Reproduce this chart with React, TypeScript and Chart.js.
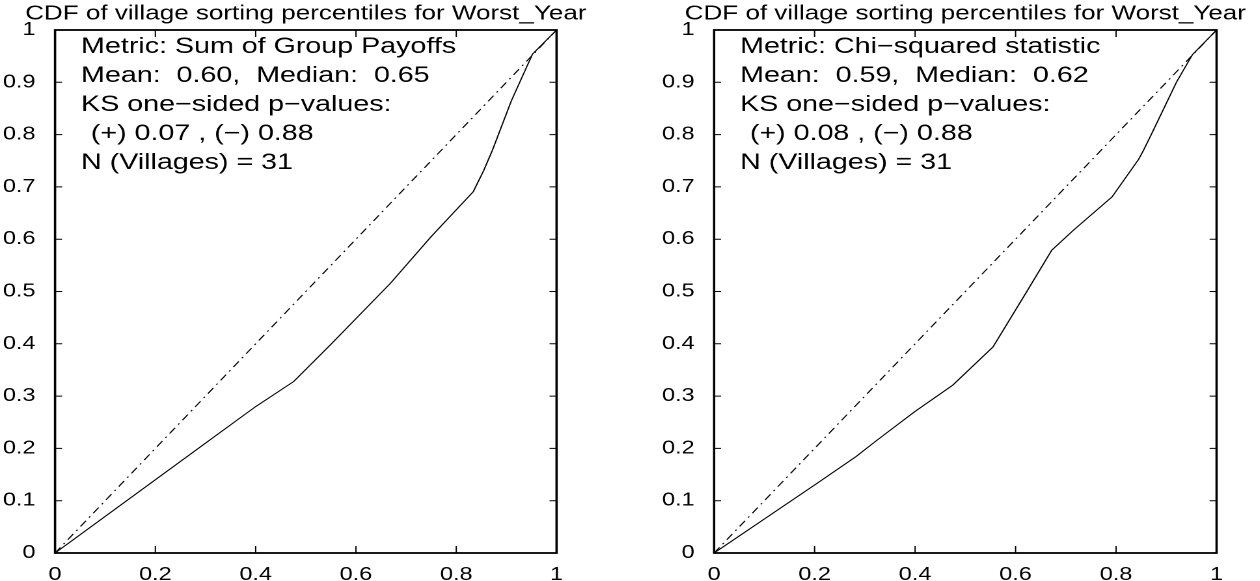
import React, { useEffect, useRef } from 'react';
import Chart from 'chart.js/auto';

// horizontal stretch of the original figure
const S = 1.3;
const PANEL_W = 630;
const H = 581;
const FONT = '"Liberation Sans", Arial, Helvetica, sans-serif';

const xTicks = [0, 0.2, 0.4, 0.6, 0.8, 1];
const xTickLabels = ['0', '0.2', '0.4', '0.6', '0.8', '1'];
const yTicks = [0, 0.1, 0.2, 0.3, 0.4, 0.5, 0.6, 0.7, 0.8, 0.9, 1];
const yTickLabels = ['0', '0.1', '0.2', '0.3', '0.4', '0.5', '0.6', '0.7', '0.8', '0.9', '1'];

const titleText = 'CDF of village sorting percentiles for Worst_Year';

const diagX = [0, 1];
const diagY = [0, 1];

const leftX = [0, 0.1, 0.2, 0.3, 0.4, 0.476, 0.552, 0.669, 0.75, 0.834, 0.855, 0.872, 0.91, 0.952, 1];
const leftY = [0, 0.07, 0.14, 0.21, 0.28, 0.328, 0.401, 0.516, 0.605, 0.691, 0.732, 0.77, 0.865, 0.954, 1];

const rightX = [0, 0.1, 0.2, 0.282, 0.322, 0.399, 0.475, 0.555, 0.616, 0.672, 0.716, 0.792, 0.845, 0.855, 0.87, 0.92, 0.952, 1];
const rightY = [0, 0.065, 0.13, 0.184, 0.214, 0.27, 0.321, 0.394, 0.49, 0.579, 0.618, 0.681, 0.753, 0.771, 0.8, 0.9, 0.953, 1];

const leftNotes = [
  'Metric: Sum of Group Payoffs',
  'Mean:  0.60,  Median:  0.65',
  'KS one\u2212sided p\u2212values:',
  '(+) 0.07 , (\u2212) 0.88',
  'N (Villages) = 31',
];
const rightNotes = [
  'Metric: Chi\u2212squared statistic',
  'Mean:  0.59,  Median:  0.62',
  'KS one\u2212sided p\u2212values:',
  '(+) 0.08 , (\u2212) 0.88',
  'N (Villages) = 31',
];
const noteIndent = [0, 0, 0, 1, 0];

type PanelProps = {
  offset: number;
  plotLeft: number;
  plotRight: number;
  xs: number[];
  ys: number[];
  notes: string[];
};

function Panel({ offset, plotLeft, plotRight, xs, ys, notes }: PanelProps) {
  const ref = useRef<HTMLCanvasElement>(null);
  useEffect(() => {
    const lw = PANEL_W / S;
    const yAxisW = (plotLeft - offset) / S;
    const padRight = lw - (plotRight - offset) / S;

    const framePlugin = {
      id: 'frame',
      afterDatasetsDraw(chart: any) {
        const ctx = chart.ctx;
        const { left, right, top, bottom } = chart.chartArea;
        const xs_ = chart.scales.x;
        const ys_ = chart.scales.y;
        ctx.save();
        ctx.strokeStyle = '#000';
        ctx.lineWidth = 1;
        ctx.beginPath();
        xTicks.forEach((v) => {
          const px = xs_.getPixelForValue(v);
          ctx.moveTo(px, bottom);
          ctx.lineTo(px, bottom - 7);
          ctx.moveTo(px, top);
          ctx.lineTo(px, top + 7);
        });
        yTicks.forEach((v) => {
          const py = ys_.getPixelForValue(v);
          ctx.moveTo(left, py);
          ctx.lineTo(left + 5.4, py);
          ctx.moveTo(right, py);
          ctx.lineTo(right - 5.4, py);
        });
        ctx.stroke();
        ctx.lineWidth = 1.8;
        ctx.strokeRect(left, top, right - left, bottom - top);

        ctx.fillStyle = '#000';
        ctx.textBaseline = 'middle';
        ctx.textAlign = 'center';
        ctx.font = `20px ${FONT}`;
        ctx.fillText(titleText, (left + right) / 2, 14);

        ctx.textAlign = 'left';
        ctx.font = `22px ${FONT}`;
        notes.forEach((t, i) => {
          ctx.fillText(t, left + 20 + noteIndent[i] * 7.5, top + 17 + i * 29);
        });
        ctx.restore();
      },
    };

    const chart = new Chart(ref.current as HTMLCanvasElement, {
      type: 'scatter',
      data: {
        datasets: [
          {
            data: xs.map((x, i) => ({ x, y: ys[i] })),
            showLine: true,
            borderColor: '#000',
            borderWidth: 1,
            pointRadius: 0,
            tension: 0,
            fill: false,
          },
          {
            data: diagX.map((x, i) => ({ x, y: diagY[i] })),
            showLine: true,
            borderColor: '#000',
            borderWidth: 1,
            borderDash: [7, 4, 1.5, 4],
            pointRadius: 0,
            tension: 0,
            fill: false,
          },
        ],
      },
      options: {
        animation: false,
        responsive: true,
        maintainAspectRatio: false,
        devicePixelRatio: 2,
        events: [],
        layout: { padding: { left: 0, right: padRight, top: 30, bottom: 0 } },
        plugins: {
          legend: { display: false },
          tooltip: { enabled: false },
          title: { display: false },
        },
        scales: {
          x: {
            type: 'linear',
            min: 0,
            max: 1,
            grid: { display: false },
            border: { display: false },
            afterBuildTicks: (s: any) => {
              s.ticks = xTicks.map((v) => ({ value: v }));
            },
            afterFit: (s: any) => {
              s.height = H - 553;
            },
            ticks: {
              padding: 3,
              color: '#000',
              maxRotation: 0,
              autoSkip: false,
              font: { family: FONT, size: 18 },
              callback: (_v: any, i: number) => xTickLabels[i],
            },
          },
          y: {
            type: 'linear',
            min: 0,
            max: 1,
            grid: { display: false },
            border: { display: false },
            afterBuildTicks: (s: any) => {
              s.ticks = yTicks.map((v) => ({ value: v }));
            },
            afterFit: (s: any) => {
              s.width = yAxisW;
            },
            ticks: {
              padding: 7,
              color: '#000',
              autoSkip: false,
              font: { family: FONT, size: 18 },
              callback: (_v: any, i: number) => yTickLabels[i],
            },
          },
        },
      },
      plugins: [framePlugin],
    } as any);
    return () => chart.destroy();
  }, []);

  return (
    <div
      style={{
        position: 'absolute',
        left: offset,
        top: 0,
        width: PANEL_W / S,
        height: H,
        transform: `scaleX(${S})`,
        transformOrigin: '0 0',
      }}
    >
      <canvas ref={ref} />
    </div>
  );
}

export default function App() {
  return (
    <div style={{ position: 'absolute', left: 0, top: 0, width: 1260, height: H, background: '#fff', overflow: 'hidden' }}>
      <Panel offset={0} plotLeft={55} plotRight={556} xs={leftX} ys={leftY} notes={leftNotes} />
      <Panel offset={630} plotLeft={714} plotRight={1216} xs={rightX} ys={rightY} notes={rightNotes} />
    </div>
  );
}
